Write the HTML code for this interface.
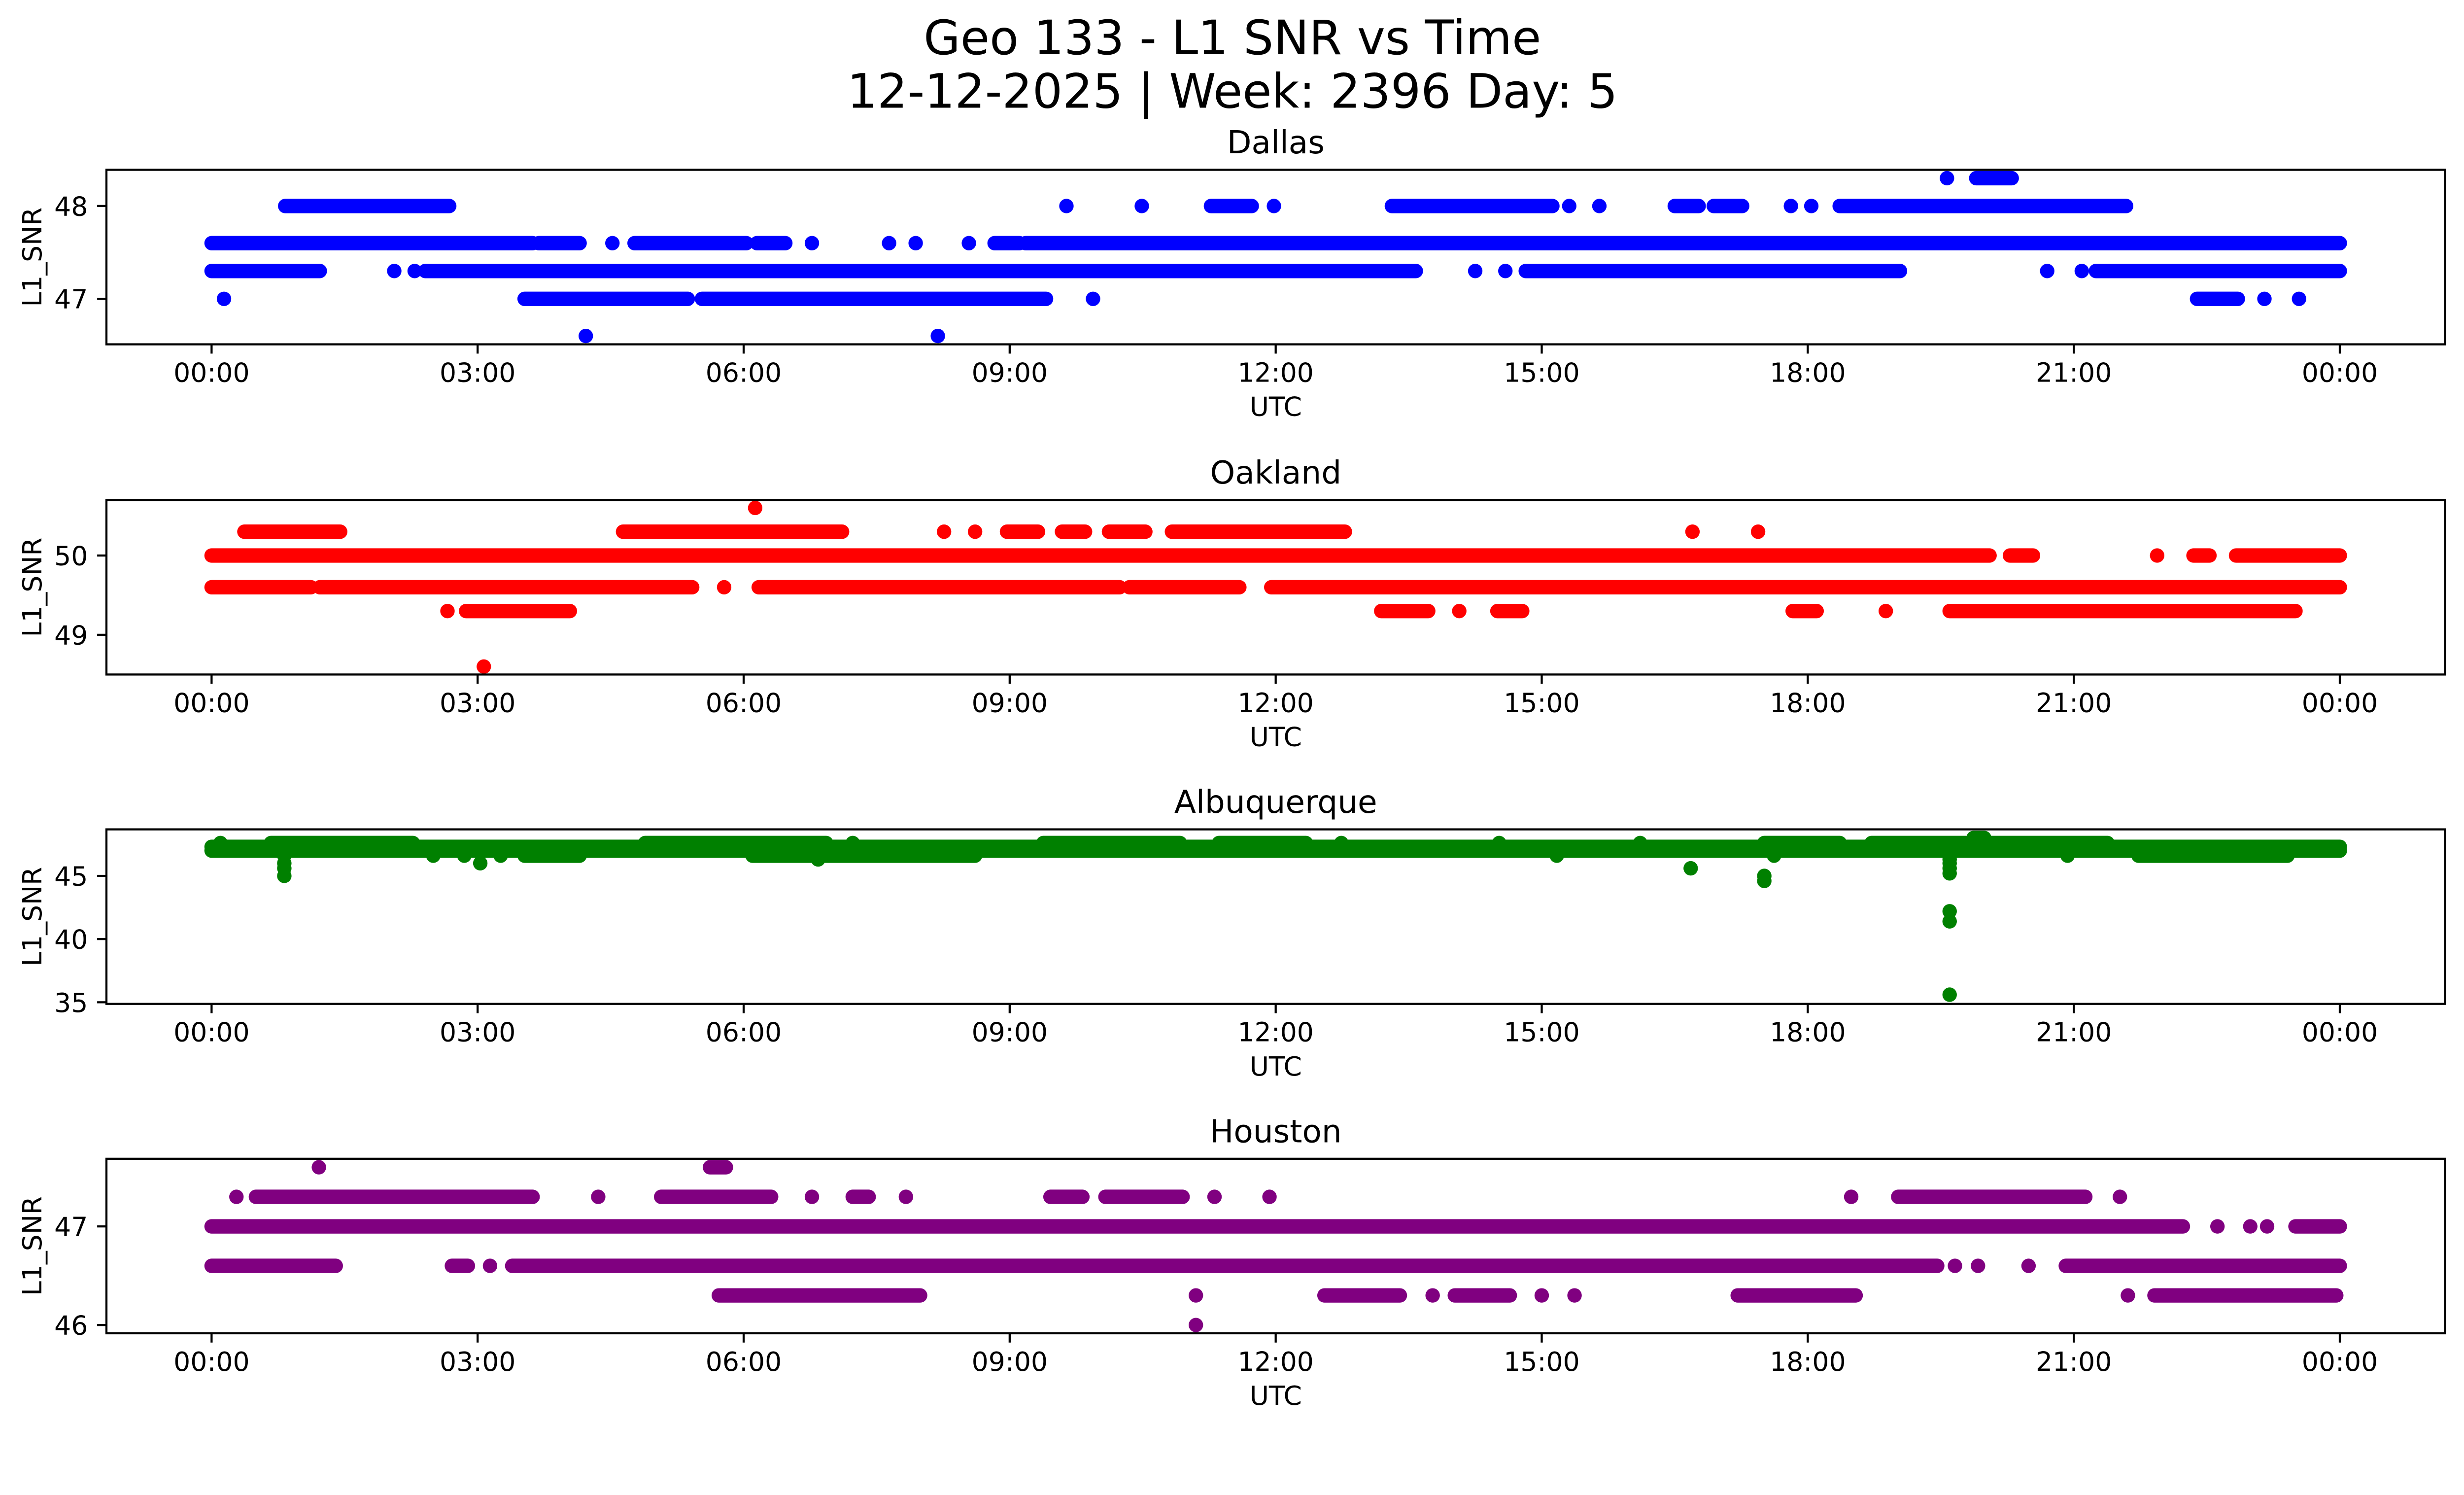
<!DOCTYPE html>
<html>
<head>
<meta charset="utf-8">
<style>
  html, body { margin: 0; padding: 0; background: #ffffff; overflow: hidden; }
  svg { display: block; width: 100vw; height: 58.0478vw; }
  text { font-family: "DejaVu Sans", "Liberation Sans", sans-serif; fill: #000; }
</style>
</head>
<body>
<svg viewBox="0 0 1567.5 909.9" xmlns="http://www.w3.org/2000/svg">
 <g id="fig">
  <rect x="0" y="0" width="1567.5" height="909.9" fill="#ffffff"/>
  <text x="784" y="34.5" font-size="30.2" text-anchor="middle">Geo 133 - L1 SNR vs Time</text>
  <text x="784" y="68.5" font-size="30.2" text-anchor="middle">12-12-2025 | Week: 2396 Day: 5</text>
 </g>
</svg>
<script>
// ---- Data (hours UTC, SNR levels) ----
const timeTickLabels = ["00:00","03:00","06:00","09:00","12:00","15:00","18:00","21:00","00:00"];
const timeTickHours = [0,3,6,9,12,15,18,21,24];

const stationNames = ["Dallas","Oakland","Albuquerque","Houston"];
const stationColors = ["#0000ff","#ff0000","#008000","#800080"];

const dallasYDomain = [46.51, 48.39];
const dallasYTicks = [47, 48];
const dallasLevels = [48.3, 48.0, 47.6, 47.3, 47.0, 46.6];
const dallasRuns = [
  [[19.57,19.57],[19.9,20.3]],
  [[0.83,2.68],[9.64,9.64],[10.49,10.49],[11.27,11.73],[11.98,11.98],[13.31,15.12],[15.31,15.31],[15.65,15.65],[16.5,16.77],[16.94,17.26],[17.81,17.81],[18.04,18.04],[18.36,21.59]],
  [[0,3.62],[3.69,4.15],[4.52,4.52],[4.77,6.03],[6.15,6.47],[6.77,6.77],[7.64,7.64],[7.94,7.94],[8.54,8.54],[8.83,9.11],[9.18,24]],
  [[0,1.22],[2.06,2.06],[2.29,2.29],[2.41,13.58],[14.25,14.25],[14.59,14.59],[14.82,19.04],[20.7,20.7],[21.09,21.09],[21.25,24]],
  [[0.14,0.14],[3.53,5.37],[5.53,9.41],[9.94,9.94],[22.39,22.85],[23.15,23.15],[23.54,23.54]],
  [[4.22,4.22],[8.19,8.19]]
];

const oaklandYDomain = [48.50, 50.70];
const oaklandYTicks = [49, 50];
const oaklandLevels = [50.6, 50.3, 50.0, 49.6, 49.3, 48.6];
const oaklandRuns = [
  [[6.13,6.13]],
  [[0.37,1.45],[4.64,7.11],[8.26,8.26],[8.61,8.61],[8.97,9.32],[9.59,9.85],[10.12,10.53],[10.83,12.78],[16.7,16.7],[17.44,17.44]],
  [[0,20.05],[20.28,20.54],[21.94,21.94],[22.35,22.53],[22.83,24]],
  [[0,1.12],[1.22,5.42],[5.78,5.78],[6.17,10.24],[10.35,11.59],[11.95,24]],
  [[2.66,2.66],[2.87,4.04],[13.19,13.72],[14.07,14.07],[14.5,14.78],[17.83,18.1],[18.88,18.88],[19.6,23.5]],
  [[3.07,3.07]]
];

const albuquerqueYDomain = [34.87, 48.68];
const albuquerqueYTicks = [35, 40, 45];
const albuquerqueLevels = [48.0, 47.6, 47.3, 47.0, 46.6, 46.3, 46.0, 45.6, 45.2, 45.0, 44.6, 42.2, 41.4, 35.6];
const albuquerqueRuns = [
  [[19.87,19.99]],
  [[0.1,0.1],[0.67,2.27],[4.89,6.93],[7.23,7.23],[9.38,10.92],[11.36,12.34],[12.74,12.74],[14.52,14.52],[16.11,16.11],[17.51,18.36],[18.72,21.38]],
  [[0,24]],
  [[0,24]],
  [[0.82,0.82],[2.5,2.5],[2.85,2.85],[3.26,3.26],[3.53,4.15],[6.1,8.61],[15.17,15.17],[17.62,17.62],[19.6,19.6],[20.93,20.93],[21.73,23.41]],
  [[6.84,6.84],[19.6,19.6]],
  [[0.82,0.82],[3.03,3.03],[19.6,19.6]],
  [[0.82,0.82],[16.68,16.68],[19.6,19.6]],
  [[19.6,19.6]],
  [[0.82,0.82],[17.51,17.51]],
  [[17.51,17.51]],
  [[19.6,19.6]],
  [[19.6,19.6]],
  [[19.6,19.6]]
];

const houstonYDomain = [45.916, 47.686];
const houstonYTicks = [46, 47];
const houstonLevels = [47.6, 47.3, 47.0, 46.6, 46.3, 46.0];
const houstonRuns = [
  [[1.21,1.21],[5.62,5.8]],
  [[0.28,0.28],[0.5,3.62],[4.36,4.36],[5.07,6.31],[6.77,6.77],[7.23,7.41],[7.83,7.83],[9.46,9.82],[10.08,10.95],[11.31,11.31],[11.93,11.93],[18.49,18.49],[19.02,21.13],[21.52,21.52]],
  [[0,22.23],[22.62,22.62],[22.99,22.99],[23.18,23.18],[23.5,24]],
  [[0,1.4],[2.71,2.89],[3.14,3.14],[3.39,19.46],[19.66,19.66],[19.92,19.92],[20.49,20.49],[20.91,24]],
  [[5.72,7.99],[11.1,11.1],[12.55,13.4],[13.77,13.77],[14.02,14.64],[15.0,15.0],[15.37,15.37],[17.21,18.54],[21.61,21.61],[21.91,23.96]],
  [[11.1,11.1]]
];

// ---- Layout ----
const NS = "http://www.w3.org/2000/svg";
const svg = document.getElementById("fig");
const axLeft = 67.7, axRight = 1555.5, axH = 111;
const axTops = [108, 318, 527.5, 737];
const x0 = 134.6, x24 = 1488.5;
const markerD = 9.2;
const panels = [
  {levels: dallasLevels, runs: dallasRuns, dom: dallasYDomain, ticks: dallasYTicks},
  {levels: oaklandLevels, runs: oaklandRuns, dom: oaklandYDomain, ticks: oaklandYTicks},
  {levels: albuquerqueLevels, runs: albuquerqueRuns, dom: albuquerqueYDomain, ticks: albuquerqueYTicks},
  {levels: houstonLevels, runs: houstonRuns, dom: houstonYDomain, ticks: houstonYTicks}
];

function xScale(h) { return x0 + (x24 - x0) * h / 24; }
function mk(tag, attrs) {
  const e = document.createElementNS(NS, tag);
  for (const k in attrs) e.setAttribute(k, attrs[k]);
  return e;
}

panels.forEach((p, i) => {
  const top = axTops[i], bot = top + axH;
  const yScale = v => bot - (v - p.dom[0]) / (p.dom[1] - p.dom[0]) * axH;
  const key = stationNames[i].toLowerCase();
  const g = mk("g", {});
  
  
  svg.appendChild(g);

  const clipId = "clip" + i;
  const cp = mk("clipPath", {id: clipId});
  cp.appendChild(mk("rect", {x: axLeft, y: top, width: axRight - axLeft, height: axH}));
  g.appendChild(cp);

  const pts = mk("g", {"clip-path": "url(#" + clipId + ")", fill: stationColors[i], stroke: stationColors[i]});
  
  
  g.appendChild(pts);
  p.levels.forEach((lv, li) => {
    const y = yScale(lv);
    p.runs[li].forEach(r => {
      let el;
      if (r[0] === r[1]) {
        el = mk("circle", {cx: xScale(r[0]), cy: y, r: markerD / 2, stroke: "none"});
      } else {
        el = mk("line", {x1: xScale(r[0]), y1: y, x2: xScale(r[1]), y2: y, "stroke-width": markerD, "stroke-linecap": "round"});
      }
      
      
      pts.appendChild(el);
    });
  });

  const frame = mk("rect", {x: axLeft, y: top, width: axRight - axLeft, height: axH, fill: "none", stroke: "#000", "stroke-width": 1.34});
  
  
  g.appendChild(frame);

  timeTickHours.forEach((h, ti) => {
    const x = xScale(h);
    const t = mk("line", {x1: x, y1: bot, x2: x, y2: bot + 5.9, stroke: "#000", "stroke-width": 1.34});
    
    
    g.appendChild(t);
    const lbl = mk("text", {x: x, y: bot + 23.8, "font-size": 16.8, "text-anchor": "middle"});
    lbl.textContent = timeTickLabels[ti];
    
    
    g.appendChild(lbl);
  });
  const xl = mk("text", {x: (axLeft + axRight) / 2, y: bot + 45.5, "font-size": 16.8, "text-anchor": "middle"});
  xl.textContent = "UTC";
  
  
  g.appendChild(xl);

  p.ticks.forEach(v => {
    const y = yScale(v);
    const t = mk("line", {x1: axLeft - 5.9, y1: y, x2: axLeft, y2: y, stroke: "#000", "stroke-width": 1.34});
    
    
    g.appendChild(t);
    const lbl = mk("text", {x: axLeft - 11.8, y: y + 6.1, "font-size": 16.8, "text-anchor": "end"});
    lbl.textContent = String(v);
    
    
    g.appendChild(lbl);
  });
  const cy = top + axH / 2;
  const yl = mk("text", {x: 26.4, y: cy, "font-size": 16.8, "text-anchor": "middle", transform: "rotate(-90 26.4 " + cy + ")"});
  yl.textContent = "L1_SNR";
  
  
  g.appendChild(yl);

  const tt = mk("text", {x: (axLeft + axRight) / 2, y: top - 10.5, "font-size": 20.2, "text-anchor": "middle"});
  tt.textContent = stationNames[i];
  
  
  g.appendChild(tt);
});
</script>
</body>
</html>
